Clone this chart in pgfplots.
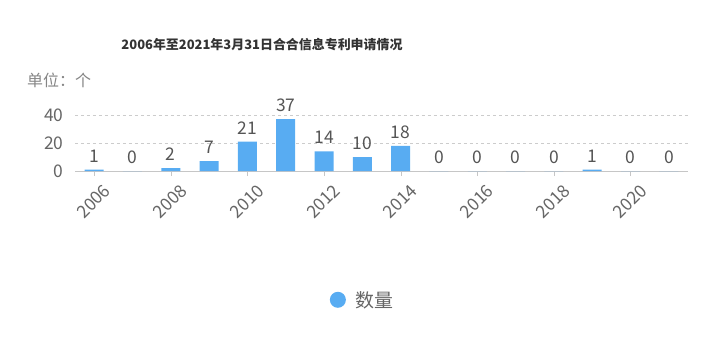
\documentclass[border=0pt]{standalone}
\usepackage{pgfplots}
\pgfplotsset{compat=1.18}
\usepackage{fontspec}
\setmainfont{Noto Sans CJK SC}
\definecolor{barblue}{HTML}{58ACF2}
\definecolor{txtgray}{HTML}{666666}
\definecolor{titlegray}{HTML}{333333}
\definecolor{labgray}{HTML}{555555}
\begin{document}
\begin{tikzpicture}[x=1bp,y=1bp]
\path[use as bounding box] (0,0) rectangle (723,-353);
\node[font=\fontsize{13}{15}\selectfont\bfseries, text=titlegray] at (262,-45) {2006年至2021年3月31日合合信息专利申请情况};
\node[font=\fontsize{16}{18}\selectfont, text=txtgray!80, anchor=west, inner sep=0] at (27,-80) {单位：个};
\begin{axis}[
  at={(75bp,-171bp)}, anchor=south west,
  scale only axis, width=613bp, height=56bp,
  xmin=2005.5, xmax=2021.5, ymin=0, ymax=40,
  ybar, bar width=19bp,
  xtick={2006,2008,...,2020},
  ytick={0,20,40},
  axis lines*=left,
  y axis line style={draw=none},
  x axis line style={draw=gray!45, line width=0.8pt},
  tick align=outside, major tick length=5bp,
  xtick style={draw=gray!45},
  ytick style={draw=none},
  ymajorgrids, grid style={dashed, draw=gray!40},
  /pgf/number format/assume math mode=true,
  /pgf/number format/1000 sep={},
  xticklabel style={rotate=45, anchor=north east, font=\fontsize{17.5}{19}\selectfont, text=txtgray, inner sep=1bp, yshift=-10bp, xshift=2bp},
  yticklabel style={font=\fontsize{17.5}{19}\selectfont, text=txtgray, xshift=-3bp},
  nodes near coords,
  nodes near coords style={font=\fontsize{17.5}{19}\selectfont, text=labgray, yshift=4bp},
  clip=false,
  legend style={at={(0.476,-2.30)}, anchor=center, draw=none, font=\fontsize{19}{21}\selectfont, text=txtgray, nodes={inner xsep=10bp}},
  legend image code/.code={\fill[barblue] (0bp,0bp) circle (8bp);},
]
\addplot[fill=barblue, draw=none] coordinates {
(2006,1) (2007,0) (2008,2) (2009,7) (2010,21) (2011,37) (2012,14) (2013,10)
(2014,18) (2015,0) (2016,0) (2017,0) (2018,0) (2019,1) (2020,0) (2021,0)};
\addlegendentry{数量}
\end{axis}
\end{tikzpicture}
\end{document}
